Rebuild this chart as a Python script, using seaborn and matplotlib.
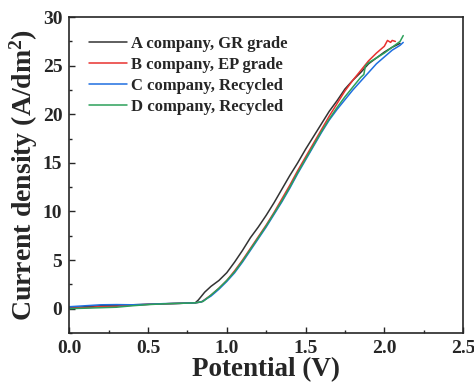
import numpy as np
import pandas as pd
import matplotlib
matplotlib.use('Agg')
import matplotlib.pyplot as plt
import seaborn as sns
from matplotlib.ticker import MultipleLocator

# -----------------------------------------------
# DATA
# -----------------------------------------------
labels = ['A company, GR grade', 'B company, EP grade',
          'C company, Recycled', 'D company, Recycled']

a_x = [0.0, 0.1, 0.2, 0.3, 0.4, 0.5, 0.6, 0.7, 0.8, 0.82, 0.86, 0.9, 0.95,
       1.0, 1.05, 1.1, 1.15, 1.2, 1.25, 1.3, 1.35, 1.4, 1.45, 1.5, 1.55,
       1.6, 1.65, 1.7, 1.75, 1.8, 1.85, 1.9, 1.95, 2.0, 2.05, 2.1]
a_y = [0.1, 0.2, 0.3, 0.35, 0.4, 0.45, 0.5, 0.55, 0.6, 0.9, 1.7, 2.3, 2.9,
       3.7, 4.8, 6.0, 7.3, 8.4, 9.6, 10.9, 12.3, 13.7, 15.0, 16.4, 17.7,
       19.0, 20.3, 21.4, 22.6, 23.5, 24.3, 25.2, 25.8, 26.4, 26.9, 27.3]

b_x = [0.0, 0.1, 0.2, 0.3, 0.4, 0.5, 0.6, 0.7, 0.8, 0.84, 0.9, 0.95,
       1.0, 1.05, 1.1, 1.15, 1.2, 1.25, 1.3, 1.35, 1.4, 1.45, 1.5, 1.55,
       1.6, 1.65, 1.7, 1.75, 1.8, 1.85, 1.9, 1.95, 2.0, 2.02, 2.04, 2.05, 2.07]
b_y = [0.05, 0.1, 0.2, 0.25, 0.35, 0.45, 0.5, 0.55, 0.6, 0.7, 1.4, 2.1,
       2.9, 3.9, 5.0, 6.2, 7.4, 8.6, 9.9, 11.3, 12.7, 14.2, 15.6, 17.0,
       18.4, 19.8, 21.1, 22.4, 23.5, 24.5, 25.5, 26.3, 27.0, 27.6, 27.4, 27.6, 27.5]

c_x = [0.0, 0.1, 0.2, 0.3, 0.4, 0.5, 0.6, 0.7, 0.8, 0.84, 0.9, 0.95,
       1.0, 1.05, 1.1, 1.15, 1.2, 1.25, 1.3, 1.35, 1.4, 1.45, 1.5, 1.55,
       1.6, 1.65, 1.7, 1.75, 1.8, 1.85, 1.9, 1.95, 2.0, 2.05, 2.1, 2.12]
c_y = [0.2, 0.3, 0.4, 0.42, 0.4, 0.45, 0.52, 0.55, 0.6, 0.7, 1.3, 2.0,
       2.8, 3.7, 4.8, 6.0, 7.2, 8.4, 9.7, 11.0, 12.4, 13.9, 15.3, 16.7,
       18.1, 19.4, 20.5, 21.5, 22.5, 23.4, 24.3, 25.2, 25.9, 26.6, 27.1, 27.4]

d_x = [0.0, 0.1, 0.2, 0.3, 0.4, 0.5, 0.6, 0.7, 0.8, 0.85, 0.9, 0.95,
       1.0, 1.05, 1.1, 1.15, 1.2, 1.25, 1.3, 1.35, 1.4, 1.45, 1.5, 1.55,
       1.6, 1.65, 1.7, 1.75, 1.8, 1.85, 1.87, 1.88, 1.9, 1.95, 2.0, 2.05, 2.1, 2.12]
d_y = [0.0, 0.05, 0.1, 0.15, 0.3, 0.42, 0.5, 0.55, 0.6, 0.75, 1.4, 2.1,
       2.9, 3.8, 4.9, 6.1, 7.3, 8.5, 9.8, 11.1, 12.5, 14.0, 15.4, 16.8,
       18.2, 19.5, 20.7, 21.8, 22.8, 23.8, 24.1, 25.0, 25.3, 25.8, 26.3, 26.9, 27.5, 28.1]

colors = ['#333333', '#e8312f', '#1f6fe0', '#2ca05a']

frames = []
for lab, xs, ys in zip(labels, [a_x, b_x, c_x, d_x], [a_y, b_y, c_y, d_y]):
    frames.append(pd.DataFrame({'Potential': xs, 'Current': ys, 'Sample': lab}))
df = pd.concat(frames, ignore_index=True)

# -----------------------------------------------
# STYLE
# -----------------------------------------------
sns.set_style('ticks')
plt.rcParams['font.family'] = ['Liberation Serif', 'DejaVu Serif']
plt.rcParams['font.weight'] = 'bold'
plt.rcParams['mathtext.fontset'] = 'custom'
plt.rcParams['mathtext.bf'] = 'Liberation Serif:bold'
plt.rcParams['mathtext.rm'] = 'Liberation Serif:bold'
plt.rcParams['mathtext.default'] = 'bf'

fig = plt.figure(figsize=(4.74, 3.89), dpi=100)
ax = fig.add_axes([0.146, 0.144, 0.831, 0.812])

sns.lineplot(data=df, x='Potential', y='Current', hue='Sample',
             palette=colors, sort=False, estimator=None, linewidth=1.1, ax=ax)

ax.set_xlim(0, 2.5)
ax.set_ylim(-2.5, 30)
ax.xaxis.set_major_locator(MultipleLocator(0.5))
ax.xaxis.set_minor_locator(MultipleLocator(0.25))
ax.yaxis.set_major_locator(MultipleLocator(5))
ax.yaxis.set_minor_locator(MultipleLocator(2.5))
ax.tick_params(which='both', direction='in', top=False, right=False,
               labelsize=14, width=1)
ax.tick_params(which='major', length=4, pad=5)
ax.tick_params(which='minor', length=2.5)
for lbl in ax.get_xticklabels() + ax.get_yticklabels():
    lbl.set_fontweight('bold')
for sp in ax.spines.values():
    sp.set_linewidth(1.2)

ax.set_xlabel('Potential (V)', fontsize=19.5, fontweight='bold', labelpad=0)
ax.set_ylabel('Current density (A/dm$^{2}$)', fontsize=20, fontweight='bold', labelpad=2)

leg = ax.legend(loc='upper left', frameon=False, fontsize=12, handlelength=2.3,
                handletextpad=0.25, labelspacing=0.3, borderaxespad=0.0,
                borderpad=0.0, bbox_to_anchor=(0.05, 0.94))
for t in leg.get_texts():
    t.set_fontweight('bold')

plt.savefig('out.png', dpi=100)
